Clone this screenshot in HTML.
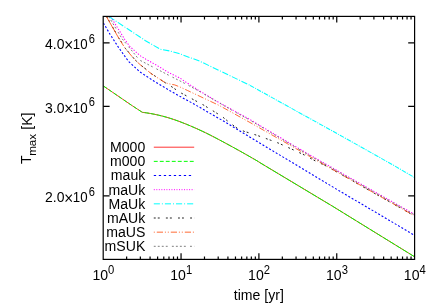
<!DOCTYPE html><html><head><meta charset="utf-8"><title>Tmax</title><style>
html,body{margin:0;padding:0;background:#fff;}svg{display:block;}text{font-family:"Liberation Sans",sans-serif;fill:#000;}
</style></head><body>
<svg width="436" height="305" viewBox="0 0 436 305">
<rect width="436" height="305" fill="#fff"/>
<filter id="bl" x="0" y="0" width="436" height="305" filterUnits="userSpaceOnUse"><feGaussianBlur stdDeviation="0.4"/></filter>
<g filter="url(#bl)">
<defs><clipPath id="c"><rect x="103.2" y="16.4" width="311.4" height="243"/></clipPath></defs>
<g clip-path="url(#c)" fill="none" stroke-linejoin="round">
<polyline points="103.7,86.2 131.6,105.3 142.3,112.3 146.3,112.84 150.3,113.48 154.3,114.24 158.3,115.1 162.3,116.08 166.3,117.17 170.3,118.36 174.3,119.67 178.3,121.09 182.3,122.61 186.3,124.2 190.3,125.86 194.3,127.58 198.3,129.37 202.3,131.23 206.3,133.15 210.3,135.14 214.3,137.2 218.3,139.3 222.3,141.43 226.3,143.58 230.3,145.75 234.3,147.94 238.3,150.16 242.3,152.39 246.3,154.65 250.3,156.93 254.3,159.22 258.3,161.55 260,162.71 332.5,206.2 414.3,256.6" stroke="#ff0000" stroke-width="0.8"/>
<clipPath id="green0"><rect x="103.2" y="16.4" width="39.1" height="243"/></clipPath>
<polyline clip-path="url(#green0)" points="103.7,86.2 131.6,105.3 142.3,112.3 146.3,112.84 150.3,113.48 154.3,114.24 158.3,115.1 162.3,116.08 166.3,117.17 170.3,118.36 174.3,119.67 178.3,121.09 182.3,122.61 186.3,124.2 190.3,125.86 194.3,127.58 198.3,129.37 202.3,131.23 206.3,133.15 210.3,135.14 214.3,137.2 218.3,139.3 222.3,141.43 226.3,143.58 230.3,145.75 234.3,147.94 238.3,150.16 242.3,152.39 246.3,154.65 250.3,156.93 254.3,159.22 258.3,161.55 260,162.71 332.5,206.2 414.3,256.6" stroke="#00ff00" stroke-width="1" stroke-dasharray="4,2"/>
<clipPath id="green1"><rect x="142.3" y="16.4" width="57.7" height="243"/></clipPath>
<polyline clip-path="url(#green1)" points="103.7,86.2 131.6,105.3 142.3,112.3 146.3,112.84 150.3,113.48 154.3,114.24 158.3,115.1 162.3,116.08 166.3,117.17 170.3,118.36 174.3,119.67 178.3,121.09 182.3,122.61 186.3,124.2 190.3,125.86 194.3,127.58 198.3,129.37 202.3,131.23 206.3,133.15 210.3,135.14 214.3,137.2 218.3,139.3 222.3,141.43 226.3,143.58 230.3,145.75 234.3,147.94 238.3,150.16 242.3,152.39 246.3,154.65 250.3,156.93 254.3,159.22 258.3,161.55 260,162.71 332.5,206.2 414.3,256.6" stroke="#00ff00" stroke-width="1" stroke-dasharray="5,1.1"/>
<clipPath id="green2"><rect x="200" y="16.4" width="214.6" height="243"/></clipPath>
<polyline clip-path="url(#green2)" points="103.7,86.2 131.6,105.3 142.3,112.3 146.3,112.84 150.3,113.48 154.3,114.24 158.3,115.1 162.3,116.08 166.3,117.17 170.3,118.36 174.3,119.67 178.3,121.09 182.3,122.61 186.3,124.2 190.3,125.86 194.3,127.58 198.3,129.37 202.3,131.23 206.3,133.15 210.3,135.14 214.3,137.2 218.3,139.3 222.3,141.43 226.3,143.58 230.3,145.75 234.3,147.94 238.3,150.16 242.3,152.39 246.3,154.65 250.3,156.93 254.3,159.22 258.3,161.55 260,162.71 332.5,206.2 414.3,256.6" stroke="#00ff00" stroke-width="1" stroke-dasharray="6.6,1.0"/>
<polyline points="103.4,23 110,34.2 118.2,46.9 128.4,61.3 140,72 153.8,81 170,90.7 180,96.4 194.8,104.5 225,122 250,137.2 271,149.8 305,170.2 340,191.3 381.3,215.6 414.3,235.2" stroke="#0000ff" stroke-width="1.08" stroke-dasharray="2.0,1.85"/>
<polyline points="110.6,16.6 124.8,39.5 129.6,46.2 140,55.6 145.9,59.2 155,64.3 170,73.3 180,78.1 184,80.9 198.3,90.2 215,100.3 233.3,110.4 249.9,119.5 270,131.5 290,143.4 320,160.8 340,172.15 375,192 414.3,214.2" stroke="#ff00ff" stroke-width="1.05" stroke-dasharray="1.3,1.6"/>
<clipPath id="cyan0"><rect x="103.2" y="16.4" width="146.8" height="243"/></clipPath>
<polyline clip-path="url(#cyan0)" points="109,16.6 140,37 145.5,40.7 160.2,49.2 170,51 179,53.5 200,61.3 250,85.3 280,102 340,135.2 360,146.4 394.1,165.6 414.3,177.4" stroke="#00ffff" stroke-width="1.05" stroke-dasharray="6.4,1.6,1,1.6"/>
<clipPath id="cyan1"><rect x="250" y="16.4" width="164.6" height="243"/></clipPath>
<polyline clip-path="url(#cyan1)" points="109,16.6 140,37 145.5,40.7 160.2,49.2 170,51 179,53.5 200,61.3 250,85.3 280,102 340,135.2 360,146.4 394.1,165.6 414.3,177.4" stroke="#00ffff" stroke-width="1.05" stroke-dasharray="4.6,1.1,1.1,1.1"/>
<polyline points="106.6,16.6 119.2,38.6 125.4,48.4 135.2,60 141.2,65.4 151.6,73.8 165,82.6 170,85.6 180,92.4 204,105.3 221.9,116.4 230.8,123.6 238.2,128.9 245.1,131.7 249,132.8 256.9,135.3 270.1,140 278.2,143 287.9,147.4 294.8,150.5 304.4,155 315.4,161 325,165.4 340,173.75 375,193.6 414.3,215.8" stroke="#202020" stroke-width="1" stroke-dasharray="1.9,2.1,1.9,6.2"/>
<clipPath id="orange0"><rect x="103.2" y="16.4" width="15.8" height="243"/></clipPath>
<polyline clip-path="url(#orange0)" points="106.4,16.6 119,38.6 125.2,48.4 135,60 141,65.4 151.4,73.8 165.5,82.9 170,84 174.7,84.9 180,87 187.3,90.4 219.5,105.6 250,122.5 290,145.2 320,162.3 340,173.65 375,193.5 414.3,215.7" stroke="#ff4500" stroke-width="0.8" stroke-dasharray="40,0"/>
<clipPath id="orange1"><rect x="119" y="16.4" width="295.6" height="243"/></clipPath>
<polyline clip-path="url(#orange1)" points="106.4,16.6 119,38.6 125.2,48.4 135,60 141,65.4 151.4,73.8 165.5,82.9 170,84 174.7,84.9 180,87 187.3,90.4 219.5,105.6 250,122.5 290,145.2 320,162.3 340,173.65 375,193.5 414.3,215.7" stroke="#ff4500" stroke-width="0.8" stroke-dasharray="6.2,1.9,1,1.9,1,1.9"/>
<polyline points="108.7,16.6 122,38.6 139.4,60 170,75.9 181.3,81.6 197,90 233.3,111 249.9,120.1 270,132.1 290,144 320,161.4 340,172.75 375,192.6 414.3,214.8" stroke="#707070" stroke-width="0.9" stroke-dasharray="1.9,2.1,1.9,2.1,1.9,2.1,1.9,4.2"/>
</g>
<line x1="153.8" y1="147.2" x2="194.2" y2="147.2" stroke="#ff0000" stroke-width="0.8"/>
<text transform="translate(145.3,152.1) scale(0.909091,1)" font-size="15.51" text-anchor="end">M000</text>
<line x1="153.8" y1="161.36" x2="194.2" y2="161.36" stroke="#00ff00" stroke-width="1" stroke-dasharray="3.9,2.1"/>
<text transform="translate(145.3,166.26) scale(0.909091,1)" font-size="15.51" text-anchor="end">m000</text>
<line x1="153.8" y1="175.52" x2="192" y2="175.52" stroke="#0000ff" stroke-width="1.1" stroke-dasharray="2.3,2.7"/>
<text transform="translate(145.3,180.42) scale(0.909091,1)" font-size="15.51" text-anchor="end">mauk</text>
<line x1="153.8" y1="189.68" x2="194.2" y2="189.68" stroke="#ff00ff" stroke-width="1" stroke-dasharray="1,1.52"/>
<text transform="translate(145.3,194.58) scale(0.909091,1)" font-size="15.51" text-anchor="end">maUk</text>
<line x1="153.8" y1="203.84" x2="194.2" y2="203.84" stroke="#00ffff" stroke-width="1" stroke-dasharray="6.1,2,1,2"/>
<text transform="translate(145.3,208.74) scale(0.909091,1)" font-size="15.51" text-anchor="end">MaUk</text>
<line x1="153.8" y1="218" x2="194.2" y2="218" stroke="#202020" stroke-width="1" stroke-dasharray="1.9,2.1,1.9,6.2"/>
<text transform="translate(145.3,222.9) scale(0.909091,1)" font-size="15.51" text-anchor="end">mAUk</text>
<line x1="153.8" y1="232.16" x2="194.2" y2="232.16" stroke="#ff4500" stroke-width="0.8" stroke-dasharray="1,2,6.2,1.9,1,1.9"/>
<text transform="translate(145.3,237.06) scale(0.909091,1)" font-size="15.51" text-anchor="end">maUS</text>
<line x1="153.8" y1="246.32" x2="194.2" y2="246.32" stroke="#707070" stroke-width="0.9" stroke-dasharray="1.9,2.1,1.9,2.1,1.9,2.1,1.9,4.2"/>
<text transform="translate(145.3,251.22) scale(0.909091,1)" font-size="15.51" text-anchor="end">mSUK</text>
<g stroke="#000" stroke-width="1.2" fill="none">
<rect x="103.2" y="16.4" width="311.4" height="243"/>
<path d="M126.635 259.4v-3M126.635 16.4v3M140.344 259.4v-3M140.344 16.4v3M150.07 259.4v-3M150.07 16.4v3M157.615 259.4v-3M157.615 16.4v3M163.779 259.4v-3M163.779 16.4v3M168.991 259.4v-3M168.991 16.4v3M173.506 259.4v-3M173.506 16.4v3M177.488 259.4v-3M177.488 16.4v3M181.05 259.4v-6.2M181.05 16.4v6.2M204.485 259.4v-3M204.485 16.4v3M218.194 259.4v-3M218.194 16.4v3M227.92 259.4v-3M227.92 16.4v3M235.465 259.4v-3M235.465 16.4v3M241.629 259.4v-3M241.629 16.4v3M246.841 259.4v-3M246.841 16.4v3M251.356 259.4v-3M251.356 16.4v3M255.338 259.4v-3M255.338 16.4v3M258.9 259.4v-6.2M258.9 16.4v6.2M282.335 259.4v-3M282.335 16.4v3M296.044 259.4v-3M296.044 16.4v3M305.77 259.4v-3M305.77 16.4v3M313.315 259.4v-3M313.315 16.4v3M319.479 259.4v-3M319.479 16.4v3M324.691 259.4v-3M324.691 16.4v3M329.206 259.4v-3M329.206 16.4v3M333.188 259.4v-3M333.188 16.4v3M336.75 259.4v-6.2M336.75 16.4v6.2M360.185 259.4v-3M360.185 16.4v3M373.894 259.4v-3M373.894 16.4v3M383.62 259.4v-3M383.62 16.4v3M391.165 259.4v-3M391.165 16.4v3M397.329 259.4v-3M397.329 16.4v3M402.541 259.4v-3M402.541 16.4v3M407.056 259.4v-3M407.056 16.4v3M411.038 259.4v-3M411.038 16.4v3M103.2 195.971h6.4M414.6 195.971h-6.4M103.2 106.36h6.4M414.6 106.36h-6.4M103.2 42.7808h6.4M414.6 42.7808h-6.4"/>
</g>
<text transform="translate(64.5,202.371) scale(0.918367,1)" font-size="15.1998" text-anchor="end">2.0</text>
<path d="M65.6 194.571L71.8 201.571M65.6 201.571L71.8 194.571" stroke="#000" stroke-width="1.05" fill="none"/>
<text transform="translate(72.8,202.371) scale(0.872449,1)" font-size="15.1998">10</text>
<text transform="translate(88.7,195.771) scale(0.890816,1)" font-size="12.4638">6</text>
<text transform="translate(64.5,112.76) scale(0.918367,1)" font-size="15.1998" text-anchor="end">3.0</text>
<path d="M65.6 104.96L71.8 111.96M65.6 111.96L71.8 104.96" stroke="#000" stroke-width="1.05" fill="none"/>
<text transform="translate(72.8,112.76) scale(0.872449,1)" font-size="15.1998">10</text>
<text transform="translate(88.7,106.16) scale(0.890816,1)" font-size="12.4638">6</text>
<text transform="translate(64.5,49.1808) scale(0.918367,1)" font-size="15.1998" text-anchor="end">4.0</text>
<path d="M65.6 41.3808L71.8 48.3808M65.6 48.3808L71.8 41.3808" stroke="#000" stroke-width="1.05" fill="none"/>
<text transform="translate(72.8,49.1808) scale(0.872449,1)" font-size="15.1998">10</text>
<text transform="translate(88.7,42.5808) scale(0.890816,1)" font-size="12.4638">6</text>
<text transform="translate(92.4,280.2) scale(0.909091,1)" font-size="15.51" text-anchor="start">10<tspan font-size="12.408" dy="-6.3">0</tspan></text>
<text transform="translate(170.25,280.2) scale(0.909091,1)" font-size="15.51" text-anchor="start">10<tspan font-size="12.408" dy="-6.3">1</tspan></text>
<text transform="translate(248.1,280.2) scale(0.909091,1)" font-size="15.51" text-anchor="start">10<tspan font-size="12.408" dy="-6.3">2</tspan></text>
<text transform="translate(325.95,280.2) scale(0.909091,1)" font-size="15.51" text-anchor="start">10<tspan font-size="12.408" dy="-6.3">3</tspan></text>
<text transform="translate(403.8,280.2) scale(0.909091,1)" font-size="15.51" text-anchor="start">10<tspan font-size="12.408" dy="-6.3">4</tspan></text>
<text transform="translate(258.8,300.4) scale(0.909091,1)" font-size="15.51" text-anchor="middle">time [yr]</text>
<text transform="translate(31,164) rotate(-90) scale(0.909091,1)" font-size="15.51">T</text>
<text transform="translate(36.3,155.8) rotate(-90) scale(1.00645,1)" font-size="11.5394">max</text>
<text transform="translate(31.7,129.7) rotate(-90) scale(0.909091,1)" font-size="15.51">[K]</text>
</g></svg></body></html>
